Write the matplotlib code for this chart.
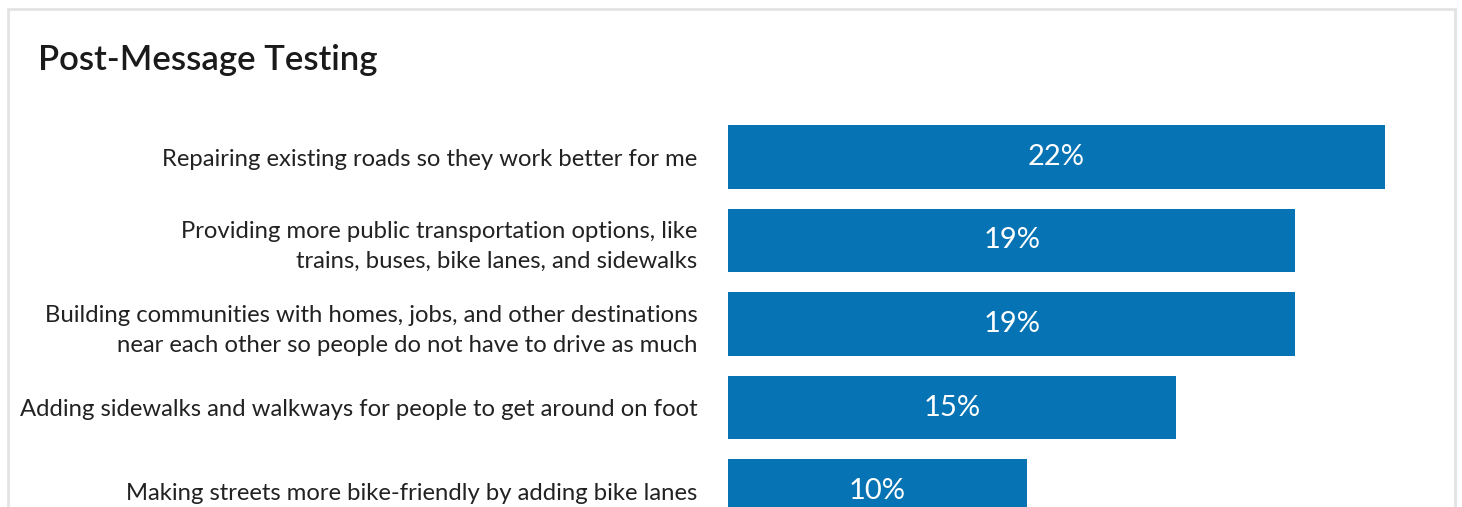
import matplotlib.pyplot as plt
from matplotlib.patches import Rectangle

categories = [
    "Repairing existing roads so they work better for me",
    "Providing more public transportation options, like\ntrains, buses, bike lanes, and sidewalks",
    "Building communities with homes, jobs, and other destinations\nnear each other so people do not have to drive as much",
    "Adding sidewalks and walkways for people to get around on foot",
    "Making streets more bike-friendly by adding bike lanes",
]
values = [22, 19, 19, 15, 10]

W, H = 1462, 507
fig = plt.figure(figsize=(W / 100, H / 100), dpi=100)
fig.patch.set_facecolor("white")

# card border
fig.add_artist(Rectangle((8 / W, -0.1), 1447 / W, 1.1 - 9 / H, transform=fig.transFigure,
                         fill=False, edgecolor="#e3e3e3", linewidth=2))

fig.text(38 / W, 1 - 60 / H, "Post-Message Testing", fontsize=25, fontfamily="Lato",
         fontweight="semibold", color="#1a1a1a", va="center", ha="left")

# axes: bar area
step = 83.5
top_px = 157 - step / 2
ax_h = 5 * step
ax = fig.add_axes([728 / W, (H - top_px - ax_h) / H, 657 / W, ax_h / H])
y = list(range(len(values)))
bars = ax.barh(y, values, height=0.766, color="#0673b4")
ax.set_xlim(0, 22)
ax.set_ylim(4.5, -0.5)
for s in ax.spines.values():
    s.set_visible(False)
ax.set_xticks([])
ax.set_yticks(y)
ax.set_yticklabels(categories, fontsize=17.2, fontfamily="Lato", color="#222222")
for lab in ax.get_yticklabels():
    lab.set_linespacing(1.5)
ax.tick_params(axis="y", length=0, pad=22)

for b, v in zip(bars, values):
    ax.text(b.get_width() / 2, b.get_y() + b.get_height() / 2, f"{v}%", color="white",
            fontsize=21, fontfamily="Lato", ha="center", va="center")

fig.savefig("out.png", dpi=100)
